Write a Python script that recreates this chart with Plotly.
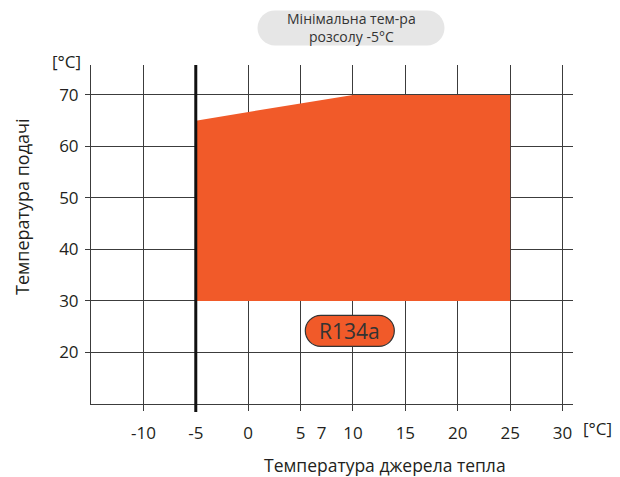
import plotly.graph_objects as go

# Operating envelope (source temperature °C, flow temperature °C)
env_x = [-5, 10, 25, 25, -5, -5]
env_y = [65, 70, 70, 30, 30, 65]

x_ticks = [-10, -5, 0, 5, 10, 15, 20, 25, 30]
x_extra_ticks = [7]
y_ticks = [20, 30, 40, 50, 60, 70]
x_range = [-15, 31]
y_range = [10, 75.8]

brine_min = -5
refrigerant = "R134a"
label_x, label_y = 9.7, 24.2

note_text = "Мінімальна тем-ра<br>розсолу -5°C"
x_title = "Температура джерела тепла"
y_title = "Температура подачі"
unit = "[°C]"

W, H = 620, 477
ML, MR, MT, MB = 91, 47, 65, 73
PW, PH = W - ML - MR, H - MT - MB

FILL = "#F15A29"
INK = "#231F20"
GRID = "#3C3C3C"
FONT = "Open Sans"


def px(x):
    return (x - ML) / PW


def py(y):
    return (H - MB - y) / PH


def pill(w, h):
    """Rounded-end box path in pixels centred on the anchor."""
    r = h / 2
    a = w / 2 - r
    k = 0.5523 * r
    return (f"M {-a},{-r} L {a},{-r} "
            f"C {a + k},{-r} {a + r},{-k} {a + r},0 "
            f"C {a + r},{k} {a + k},{r} {a},{r} "
            f"L {-a},{r} "
            f"C {-a - k},{r} {-a - r},{k} {-a - r},0 "
            f"C {-a - r},{-k} {-a - k},{-r} {-a},{-r} Z")


fig = go.Figure()

fig.add_trace(go.Scatter(
    x=env_x, y=env_y, mode="lines", fill="toself",
    fillcolor=FILL, line=dict(width=0, color=FILL),
    hoverinfo="skip", showlegend=False,
))

# secondary axis carrying the extra "7" label without a grid line
fig.add_trace(go.Scatter(x=[x_extra_ticks[0]], y=[y_range[0]], xaxis="x2",
                         mode="markers", marker=dict(opacity=0),
                         hoverinfo="skip", showlegend=False))

axis_font = dict(family=FONT, size=17, color=INK)

fig.update_layout(
    width=W, height=H,
    margin=dict(l=ML, r=MR, t=MT, b=MB),
    paper_bgcolor="white", plot_bgcolor="white",
    font=dict(family=FONT, color=INK),
    xaxis=dict(
        range=x_range, tickvals=x_ticks, ticktext=[str(v) for v in x_ticks],
        showgrid=True, gridcolor=GRID, gridwidth=1,
        showline=True, linecolor=GRID, linewidth=1,
        ticks="outside", ticklen=6, tickcolor=GRID, tickwidth=1,
        ticklabelstandoff=8,
        tickfont=axis_font, zeroline=False, fixedrange=True,
    ),
    xaxis2=dict(
        range=x_range, overlaying="x", side="bottom", matches="x",
        tickvals=x_extra_ticks, ticktext=[str(v) for v in x_extra_ticks],
        showgrid=False, showline=False, ticks="outside", ticklen=6,
        tickcolor="rgba(0,0,0,0)", ticklabelstandoff=8,
        tickfont=axis_font, zeroline=False,
    ),
    yaxis=dict(
        range=y_range, tickvals=y_ticks,
        showgrid=True, gridcolor=GRID, gridwidth=1,
        showline=True, linecolor=GRID, linewidth=1,
        ticks="outside", ticklen=5, tickcolor=GRID, tickwidth=1,
        ticklabelstandoff=3,
        tickfont=axis_font, zeroline=False, fixedrange=True,
    ),
    showlegend=False,
)

shapes = [
    # minimum brine temperature boundary
    dict(type="line", xref="x", yref="paper", x0=brine_min, x1=brine_min,
         y0=py(412), y1=1, line=dict(color="#111111", width=3), layer="above"),
    # refrigerant badge
    dict(type="path", xref="x", yref="y", xsizemode="pixel", ysizemode="pixel",
         xanchor=label_x, yanchor=label_y, path=pill(89, 31),
         fillcolor=FILL, line=dict(color="#333333", width=1.2), layer="above"),
    # note badge above the chart
    dict(type="path", xref="paper", yref="paper", xsizemode="pixel", ysizemode="pixel",
         xanchor=px(351), yanchor=py(28), path=pill(187, 35),
         fillcolor="#E6E6E6", line=dict(width=0), layer="above"),
]

centered = dict(showarrow=False, xanchor="center", yanchor="middle")

annotations = [
    dict(x=label_x, y=label_y, xref="x", yref="y", text=refrigerant,
         font=dict(family=FONT, size=21, color="#333333"), **centered),
    dict(x=px(351), y=py(28), xref="paper", yref="paper", text=note_text,
         font=dict(family=FONT, size=14, color="#333333"), **centered),
    dict(x=px(385), y=py(465), xref="paper", yref="paper", text=x_title,
         font=dict(family=FONT, size=17.5, color=INK), **centered),
    dict(x=px(22), y=py(207), xref="paper", yref="paper", text=y_title,
         textangle=-90, font=dict(family=FONT, size=18, color=INK), **centered),
    dict(x=px(597), y=py(428), xref="paper", yref="paper", text=unit,
         font=dict(family=FONT, size=17, color=INK), **centered),
    dict(x=px(66), y=py(62), xref="paper", yref="paper", text=unit,
         font=dict(family=FONT, size=17, color=INK), **centered),
]

fig.update_layout(shapes=shapes, annotations=annotations)

fig.write_html("out.html")
